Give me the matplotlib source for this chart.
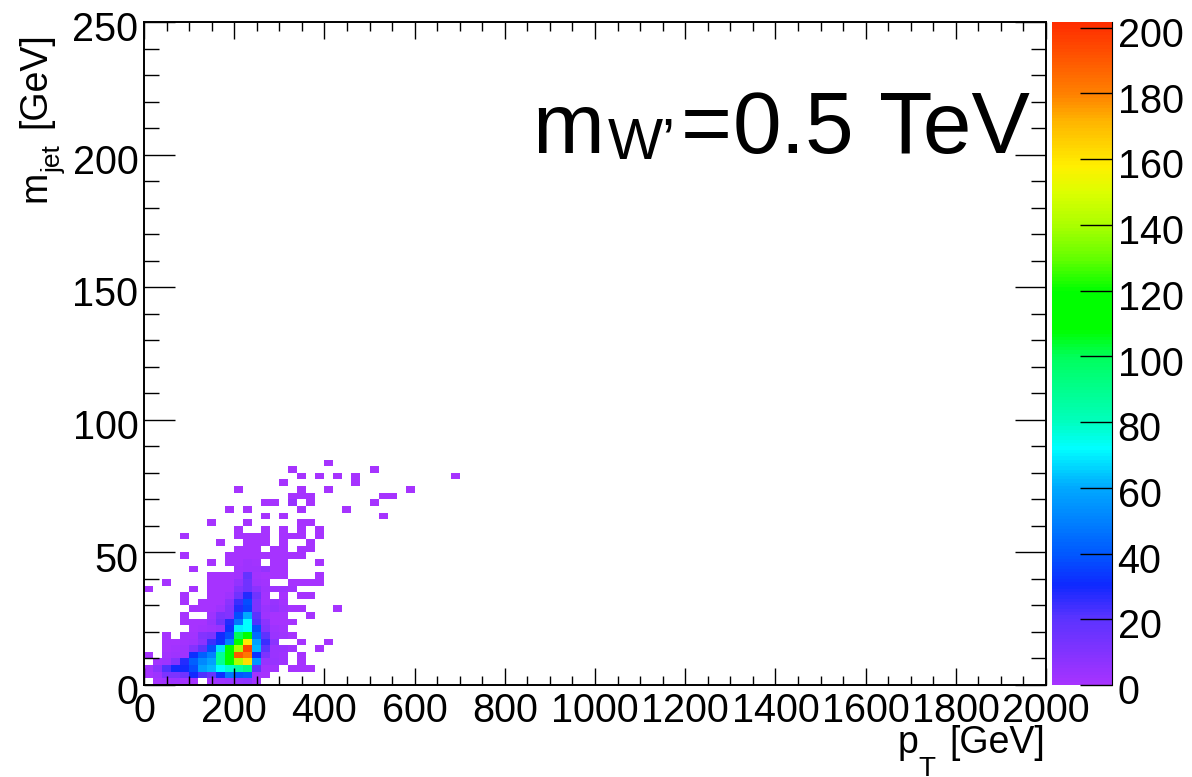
import matplotlib
matplotlib.use('Agg')
import matplotlib.pyplot as plt
import numpy as np
from matplotlib.colors import LinearSegmentedColormap
from matplotlib.ticker import MultipleLocator
from matplotlib.transforms import ScaledTranslation

plt.rcParams['font.family'] = ['Liberation Sans', 'DejaVu Sans']

# bin counts, rows are m_jet bins from the bottom, cols are pT bins
core_counts = [
    [0, 1, 2, 3, 1, 1, 0, 2, 3, 4, 6, 7, 2, 0, 0, 0, 0, 0, 0, 0, 0, 0],
    [1, 3, 12, 12, 15, 30, 22, 18, 32, 48, 40, 42, 2, 1, 0, 0, 0, 0, 0, 0, 0, 0],
    [2, 8, 22, 30, 30, 38, 58, 62, 72, 78, 85, 92, 20, 2, 2, 0, 1, 1, 1, 0, 0, 0],
    [0, 2, 3, 10, 28, 42, 52, 58, 88, 110, 140, 162, 55, 5, 5, 3, 0, 1, 0, 0, 0, 0],
    [1, 0, 2, 3, 3, 32, 42, 50, 88, 118, 190, 182, 32, 12, 4, 3, 0, 1, 0, 0, 0, 0],
    [0, 0, 1, 2, 3, 10, 20, 38, 68, 115, 140, 195, 62, 20, 4, 4, 2, 0, 0, 1, 0, 0],
    [0, 0, 1, 1, 2, 3, 8, 25, 32, 50, 108, 160, 58, 25, 8, 0, 0, 1, 0, 0, 1, 0],
    [0, 0, 1, 0, 2, 2, 10, 12, 30, 38, 100, 108, 45, 20, 4, 3, 1, 0, 0, 0, 0, 0],
    [0, 0, 0, 0, 0, 1, 2, 3, 5, 32, 70, 72, 38, 10, 3, 2, 0, 0, 0, 0, 0, 0],
    [0, 0, 0, 0, 1, 1, 1, 5, 15, 28, 48, 72, 22, 8, 1, 1, 1, 0, 0, 0, 0, 0],
    [0, 0, 0, 0, 1, 0, 0, 3, 12, 10, 38, 60, 20, 3, 1, 1, 0, 0, 1, 0, 0, 0],
    [0, 0, 0, 0, 0, 1, 1, 1, 3, 10, 28, 36, 12, 4, 6, 3, 1, 1, 0, 0, 0, 1],
    [0, 0, 0, 0, 1, 0, 1, 1, 1, 8, 25, 38, 12, 2, 5, 2, 0, 0, 0, 0, 0, 0],
    [0, 0, 0, 0, 1, 0, 0, 1, 1, 3, 15, 28, 15, 2, 0, 1, 0, 1, 1, 0, 0, 0],
    [1, 0, 0, 0, 0, 1, 0, 1, 1, 1, 10, 15, 8, 3, 3, 3, 2, 0, 0, 0, 0, 0],
    [0, 0, 1, 0, 0, 0, 0, 1, 1, 1, 6, 15, 3, 2, 0, 0, 1, 1, 1, 1, 0, 0],
    [0, 0, 0, 0, 0, 0, 0, 1, 1, 1, 2, 18, 2, 1, 1, 1, 0, 0, 0, 1, 0, 0],
    [0, 0, 0, 0, 0, 1, 0, 0, 0, 0, 2, 3, 3, 6, 1, 1, 0, 0, 0, 0, 0, 0],
    [0, 0, 0, 0, 0, 0, 0, 1, 0, 1, 1, 3, 2, 0, 1, 1, 0, 0, 0, 1, 0, 0],
]

# scattered single-count bins above the core
sparse_rows = [19, 19, 19, 19, 19, 19, 19, 19, 19, 19,
               20, 20, 20, 20, 20, 20, 20,
               21, 21, 21, 21, 21, 21,
               22, 22, 22, 22, 22, 22, 22, 22, 22,
               23, 23, 23, 23, 23,
               24, 24, 24, 24,
               25, 25, 25,
               26, 26, 26, 26,
               27, 27, 27, 27, 27,
               28, 28, 28, 28, 28,
               29, 29, 29, 29,
               30, 30,
               31, 31, 31, 31, 31,
               32, 32,
               33]
sparse_cols = [4, 9, 10, 11, 12, 13, 14, 15, 16, 17,
               10, 11, 12, 14, 15, 17, 18,
               8, 11, 12, 13, 15, 18,
               4, 10, 11, 12, 13, 15, 16, 17, 19,
               10, 13, 15, 17, 19,
               7, 11, 17, 18,
               13, 15, 26,
               9, 11, 17, 22,
               13, 14, 16, 18, 25,
               16, 17, 18, 26, 27,
               10, 17, 20, 29,
               15, 23,
               17, 19, 21, 23, 34,
               16, 25,
               20]

pt_edges = np.linspace(0, 2000, 101)
mass_edges = np.linspace(0, 250, 101)

color_levels = [0, 20, 30, 40, 60, 72, 80, 100, 108, 120, 130, 140, 150, 158, 165, 172, 180, 190, 201.75]
color_list = ['#a633ff', '#5a33ff', '#0f28ff', '#005aff', '#00aaff', '#00ffff', '#00ffbe', '#00ff5a',
              '#00ff00', '#00ff00', '#64ff00', '#aaff00', '#dcff00', '#fff000', '#ffd200', '#ffb400',
              '#ff8200', '#ff5a00', '#ff2d00']
zmax = color_levels[-1]
cmap = LinearSegmentedColormap.from_list('root_rainbow', [(v / zmax, c) for v, c in zip(color_levels, color_list)], N=200)

h = np.zeros((100, 100))
h[:len(core_counts), :len(core_counts[0])] = core_counts
for r, c in zip(sparse_rows, sparse_cols):
    h[r, c] = 1
h[27, 16] = 5
h = np.ma.masked_equal(h, 0)

W, H = 1192, 777
fig = plt.figure(figsize=(W / 100, H / 100), dpi=100)
ax = fig.add_axes([144 / W, (H - 685) / H, 902 / W, 663 / H])
cax = fig.add_axes([1052 / W, (H - 685) / H, 60 / W, 663 / H])

mesh = ax.pcolormesh(pt_edges, mass_edges, h, cmap=cmap, vmin=0, vmax=zmax)
ax.set_xlim(0, 2000)
ax.set_ylim(0, 250)

ax.xaxis.set_major_locator(MultipleLocator(200))
ax.xaxis.set_minor_locator(MultipleLocator(50))
ax.yaxis.set_major_locator(MultipleLocator(50))
ax.yaxis.set_minor_locator(MultipleLocator(10))

ax.tick_params(axis='x', which='major', direction='in', top=True, length=12.5, width=1.0, labelsize=28.5, pad=5)
ax.tick_params(axis='x', which='minor', direction='in', top=True, length=6.2, width=1.0)
ax.tick_params(axis='y', which='major', direction='in', right=True, length=22, width=1.0, labelsize=28.5, pad=4)
ax.tick_params(axis='y', which='minor', direction='in', right=True, length=11, width=1.0)
for s in ax.spines.values():
    s.set_linewidth(1.4)

# ROOT puts the y labels a bit low
shift = ScaledTranslation(0, -3 / 72, fig.dpi_scale_trans)
for lab in ax.get_yticklabels():
    lab.set_transform(lab.get_transform() + shift)

cbar = fig.colorbar(mesh, cax=cax, ticks=np.arange(0, 201, 20))
cbar.outline.set_visible(False)
cax.spines['right'].set_visible(True)
cax.spines['right'].set_linewidth(0.8)
cax.tick_params(direction='in', length=23, width=1.0, labelsize=28.5, pad=4)
for lab in cax.get_yticklabels():
    lab.set_transform(lab.get_transform() + shift)


def put(x, y, s, size, **kw):
    # x, y in reference pixels, y is the baseline
    fig.text(x / W, 1 - y / H, s, fontsize=size, va='baseline', **kw)


put(898, 753, 'p', 27)
put(918, 776, 'T', 20)
put(1045, 753, '[GeV]', 27, ha='right')

put(45, 202, 'm', 27, rotation=90, rotation_mode='anchor')
put(61, 173, 'jet', 19, rotation=90, rotation_mode='anchor')
put(45, 128, '[GeV]', 27, rotation=90, rotation_mode='anchor')

put(532, 153, 'm', 62)
put(608, 159, 'W\u2019', 42)
put(681, 153, '=', 63)
put(733, 153, '0.5', 63)
put(1030, 153, 'TeV', 63, ha='right')

fig.savefig('out.png', dpi=100)
